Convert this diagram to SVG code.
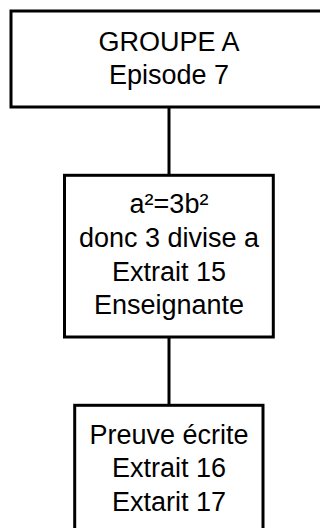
<svg xmlns="http://www.w3.org/2000/svg" width="320" height="528" viewBox="0 0 320 528">
<style>
.box{fill:#fff;stroke:#000;stroke-width:3}
.conn{stroke:#000;stroke-width:3;fill:none}
text{font-family:"Liberation Sans",Arial,sans-serif;font-size:27px;fill:#000;text-anchor:middle}
</style>
<rect width="320" height="528" fill="#fff"/>
<g id="connectors">
<line class="conn" x1="169" y1="107" x2="169" y2="175"/>
<line class="conn" x1="169" y1="337" x2="169" y2="405"/>
</g>
<g id="node1">
<rect class="box" x="11" y="11" width="316" height="96"/>
<text x="169" y="51">GROUPE A</text>
<text x="169" y="84">Episode 7</text>
</g>
<g id="node2">
<rect class="box" x="64.5" y="175.3" width="208.8" height="161.7"/>
<text x="169" y="213">a²=3b²</text>
<text x="169" y="247">donc 3 divise a</text>
<text x="169" y="281">Extrait 15</text>
<text x="169" y="314">Enseignante</text>
</g>
<g id="node3">
<rect class="box" x="74.7" y="405.3" width="188.3" height="140"/>
<text x="169" y="444">Preuve écrite</text>
<text x="169" y="477">Extrait 16</text>
<text x="169" y="511">Extarit 17</text>
</g>
</svg>
